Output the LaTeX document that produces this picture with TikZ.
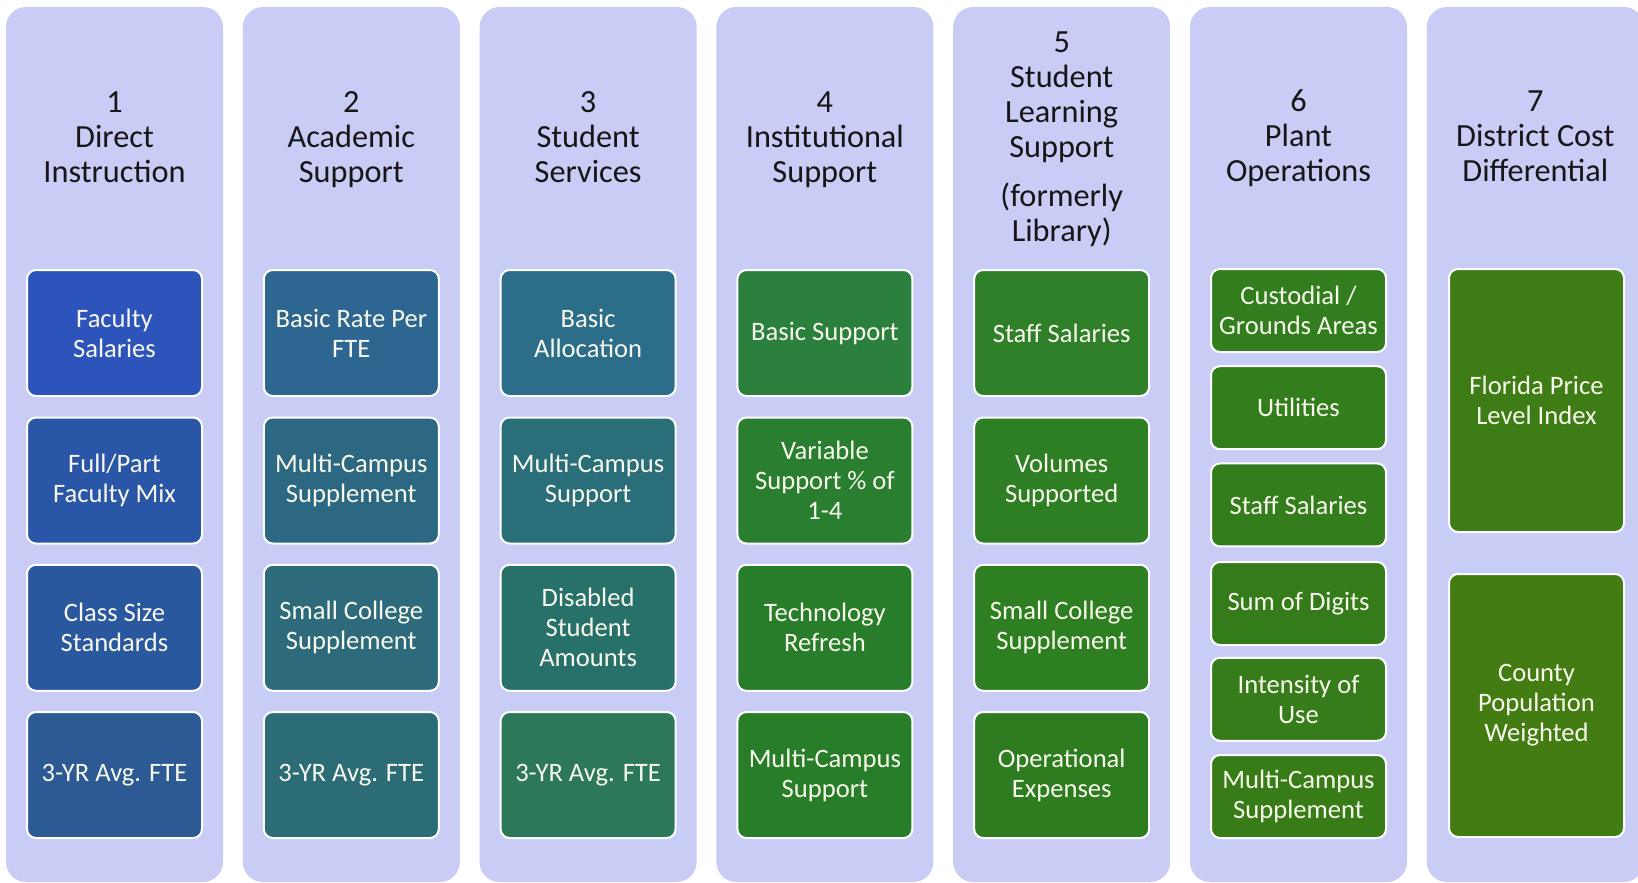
\documentclass[tikz,border=0pt]{standalone}
\usepackage{fontspec}
\setmainfont{Carlito}
\definecolor{colbg}{RGB}{201,204,245}
\definecolor{hdtext}{RGB}{22,22,22}
\definecolor{bxtext}{RGB}{248,248,236}
\definecolor{a1}{RGB}{44,84,186}
\definecolor{a2}{RGB}{42,86,168}
\definecolor{a3}{RGB}{42,88,158}
\definecolor{a4}{RGB}{44,90,148}
\definecolor{b1}{RGB}{46,102,146}
\definecolor{b2}{RGB}{44,104,130}
\definecolor{b3}{RGB}{44,106,124}
\definecolor{b4}{RGB}{44,108,118}
\definecolor{d1}{RGB}{44,110,138}
\definecolor{d2}{RGB}{42,110,122}
\definecolor{d3}{RGB}{40,112,106}
\definecolor{d4}{RGB}{44,120,88}
\definecolor{e1}{RGB}{44,128,62}
\definecolor{e2}{RGB}{42,126,48}
\definecolor{e3}{RGB}{40,125,42}
\definecolor{e4}{RGB}{40,126,40}
\definecolor{f1}{RGB}{48,128,42}
\definecolor{f2}{RGB}{46,126,36}
\definecolor{f3}{RGB}{46,126,34}
\definecolor{f4}{RGB}{46,124,32}
\definecolor{g1}{RGB}{50,126,30}
\definecolor{g2}{RGB}{50,126,28}
\definecolor{g3}{RGB}{52,125,28}
\definecolor{g4}{RGB}{52,124,26}
\definecolor{g5}{RGB}{54,124,26}
\definecolor{g6}{RGB}{56,124,24}
\definecolor{h1}{RGB}{62,124,22}
\definecolor{h2}{RGB}{66,124,18}
\tikzset{
  colbox/.style={fill=colbg, draw=none, rounded corners=20pt, minimum width=217pt, minimum height=875pt, inner sep=0pt},
  itembox/.style={draw=white, line width=2pt, rounded corners=9pt, text=bxtext,
    font=\fontsize{26.6}{30}\selectfont, align=center, inner sep=0pt, minimum width=175pt},
  tall/.style={itembox, minimum height=126pt},
  short/.style={itembox, minimum height=83pt},
  huge/.style={itembox, minimum height=263pt},
  header/.style={text=hdtext, font=\fontsize{32.3}{35}\selectfont, align=center, inner sep=0pt,
    execute at begin node=\strut, execute at end node=\strut}
}
\begin{document}
\begin{tikzpicture}[x=1pt,y=-1pt]
\useasboundingbox (0,0) rectangle (1638,883);
\clip (0,0) rectangle (1638,883);
\fill[white] (0,0) rectangle (1638,883);
% columns
\node[colbox] (col1) at (114.5,444.5) {};
\node[colbox] (col2) at (351.3,444.5) {};
\node[colbox] (col3) at (588.1,444.5) {};
\node[colbox] (col4) at (824.9,444.5) {};
\node[colbox] (col5) at (1061.7,444.5) {};
\node[colbox] (col6) at (1298.5,444.5) {};
\node[colbox] (col7) at (1535.3,444.5) {};
% headers
\node[header] (h1) at (114.5,142.5) {1\\Direct\\Instruction};
\node[header] (h2) at (351.3,142.5) {2\\Academic\\Support};
\node[header] (h3) at (588.1,142.5) {3\\Student\\Services};
\node[header] (h4) at (824.9,142.5) {4\\Institutional\\Support};
\node[header] (h5) at (1061.7,142) {5\\Student\\Learning\\Support\\[14pt](formerly\\Library)};
\node[header] (h6) at (1298.5,140.5) {6\\Plant\\Operations};
\node[header] (h7) at (1535.3,141.5) {7\\District Cost\\Differential};
% column 1
\node[tall, fill=a1] (b11) at (114.5,333) {Faculty\\Salaries};
\node[tall, fill=a2] (b12) at (114.5,480.5) {Full/Part\\Faculty Mix};
\node[tall, fill=a3] (b13) at (114.5,627.8) {Class Size\\Standards};
\node[tall, fill=a4] (b14) at (114.5,775) {3-YR Avg. FTE};
% column 2
\node[tall, fill=b1] (b21) at (351.3,333) {Basic Rate Per\\FTE};
\node[tall, fill=b2] (b22) at (351.3,480.5) {Multi-Campus\\Supplement};
\node[tall, fill=b3] (b23) at (351.3,627.8) {Small College\\Supplement};
\node[tall, fill=b4] (b24) at (351.3,775) {3-YR Avg. FTE};
% column 3
\node[tall, fill=d1] (b31) at (588.1,333) {Basic\\Allocation};
\node[tall, fill=d2] (b32) at (588.1,480.5) {Multi-Campus\\Support};
\node[tall, fill=d3] (b33) at (588.1,627.8) {Disabled\\Student\\Amounts};
\node[tall, fill=d4] (b34) at (588.1,775) {3-YR Avg. FTE};
% column 4
\node[tall, fill=e1] (b41) at (824.9,333) {Basic Support};
\node[tall, fill=e2] (b42) at (824.9,480.5) {Variable\\Support \% of\\1-4};
\node[tall, fill=e3] (b43) at (824.9,627.8) {Technology\\Refresh};
\node[tall, fill=e4] (b44) at (824.9,775) {Multi-Campus\\Support};
% column 5
\node[tall, fill=f1] (b51) at (1061.7,333) {Staff Salaries};
\node[tall, fill=f2] (b52) at (1061.7,480.5) {Volumes\\Supported};
\node[tall, fill=f3] (b53) at (1061.7,627.8) {Small College\\Supplement};
\node[tall, fill=f4] (b54) at (1061.7,775) {Operational\\Expenses};
% column 6
\node[short, fill=g1] (b61) at (1298.5,310.5) {Custodial /\\Grounds Areas};
\node[short, fill=g2] (b62) at (1298.5,407.7) {Utilities};
\node[short, fill=g3] (b63) at (1298.5,504.9) {Staff Salaries};
\node[short, fill=g4] (b64) at (1298.5,603.5) {Sum of Digits};
\node[short, fill=g5] (b65) at (1298.5,699.3) {Intensity of\\Use};
\node[short, fill=g6] (b66) at (1298.5,796.5) {Multi-Campus\\Supplement};
% column 7
\node[huge, fill=h1] (b71) at (1536.5,400.5) {Florida Price\\Level Index};
\node[huge, fill=h2] (b72) at (1536.5,705.5) {County\\Population\\Weighted};
\end{tikzpicture}
\end{document}
